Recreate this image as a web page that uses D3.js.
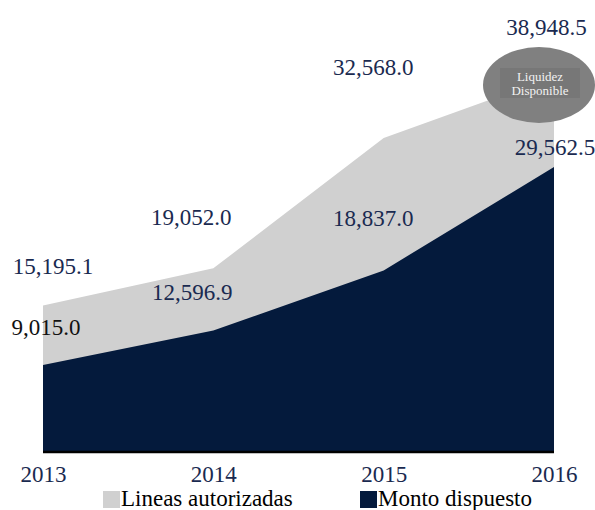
<!DOCTYPE html>
<html>
<head>
<meta charset="utf-8">
<script src="https://cdn.jsdelivr.net/npm/d3@7"></script>
<style>
  body { margin: 0; background: #fff; }
  text { font-family: "Liberation Serif", "Times New Roman", serif; }
</style>
</head>
<body>
<div id="chart"></div>
<script>
// data
var years = ["2013", "2014", "2015", "2016"];
var lineasAutorizadas = [15195.1, 19052.0, 32568.0, 38948.5];
var montoDispuesto = [9015.0, 12596.9, 18837.0, 29562.5];

var w = 595;
var h = 510;

var navy = "#041a3c";
var grey = "#d0d0d0";
var textNavy = "#1a2a50";

var x = d3.scalePoint()
          .domain(years)
          .range([43, 554]);

var y = d3.scaleLinear()
          .domain([0, 40000])
          .range([452, 66.4]);

var svg = d3.select("#chart")
            .append("svg")
            .attr("width", w)
            .attr("height", h);

var area = d3.area()
             .x(function(d, i){ return x(years[i]); })
             .y0(y(0))
             .y1(function(d){ return y(d); });

svg.append("path")
   .attr("d", area(lineasAutorizadas))
   .attr("fill", grey);

svg.append("path")
   .attr("d", area(montoDispuesto))
   .attr("fill", navy);

// baseline
svg.append("line")
   .attr("x1", x("2013")).attr("x2", x("2016"))
   .attr("y1", y(0)).attr("y2", y(0))
   .attr("stroke", "#000")
   .attr("stroke-width", 2.5);

// x axis labels
var xAxis = d3.axisBottom(x).tickSize(0);
var gx = svg.append("g")
            .attr("transform", "translate(0," + y(0) + ")")
            .call(xAxis);
gx.select(".domain").remove();
gx.selectAll("text")
  .attr("y", 30)
  .attr("dy", 0)
  .attr("font-size", 23)
  .attr("font-family", "Liberation Serif, serif")
  .attr("fill", textNavy);

// value labels (offsets tuned by eye)
var greyOff = [[10, -31.5], [-22, -43], [-10.5, -63], [-7.5, -41.5]];
var navyOff = [[3, -30], [-21, -30.6], [-10.5, -44.4], [1, -12]];

svg.selectAll(".lblGrey")
   .data(lineasAutorizadas)
   .enter()
   .append("text")
   .attr("x", function(d, i){ return x(years[i]) + greyOff[i][0]; })
   .attr("y", function(d, i){ return y(d) + greyOff[i][1]; })
   .attr("text-anchor", "middle")
   .attr("font-size", 23)
   .attr("fill", textNavy)
   .text(function(d){ return d3.format(",.1f")(d); });

svg.selectAll(".lblNavy")
   .data(montoDispuesto)
   .enter()
   .append("text")
   .attr("x", function(d, i){ return x(years[i]) + navyOff[i][0]; })
   .attr("y", function(d, i){ return y(d) + navyOff[i][1]; })
   .attr("text-anchor", "middle")
   .attr("font-size", 23)
   .attr("fill", function(d, i){ return i == 0 ? "#111" : textNavy; })
   .text(function(d){ return d3.format(",.1f")(d); });

// Liquidez Disponible bubble
var bx = 539, by = 85;
svg.append("ellipse")
   .attr("cx", bx).attr("cy", by)
   .attr("rx", 56).attr("ry", 38)
   .attr("fill", "#808080");
svg.append("rect")
   .attr("x", bx - 39).attr("y", by - 17)
   .attr("width", 80).attr("height", 30)
   .attr("fill", "#777777");
svg.append("text")
   .attr("x", bx + 1).attr("y", by - 4)
   .attr("text-anchor", "middle")
   .attr("font-size", 13)
   .attr("fill", "#f2f2f2")
   .text("Liquidez");
svg.append("text")
   .attr("x", bx + 1).attr("y", by + 10)
   .attr("text-anchor", "middle")
   .attr("font-size", 13)
   .attr("fill", "#f2f2f2")
   .text("Disponible");

// legend
var legend = [
  {name: "Lineas autorizadas", color: grey, x: 103},
  {name: "Monto dispuesto", color: navy, x: 360}
];
var lg = svg.selectAll(".legend")
            .data(legend)
            .enter()
            .append("g");
lg.append("rect")
  .attr("x", function(d){ return d.x; })
  .attr("y", 491)
  .attr("width", 17).attr("height", 17)
  .attr("fill", function(d){ return d.color; });
lg.append("text")
  .attr("x", function(d){ return d.x + 18; })
  .attr("y", 506)
  .attr("font-size", 23)
  .attr("fill", "#000")
  .text(function(d){ return d.name; });
</script>
</body>
</html>
